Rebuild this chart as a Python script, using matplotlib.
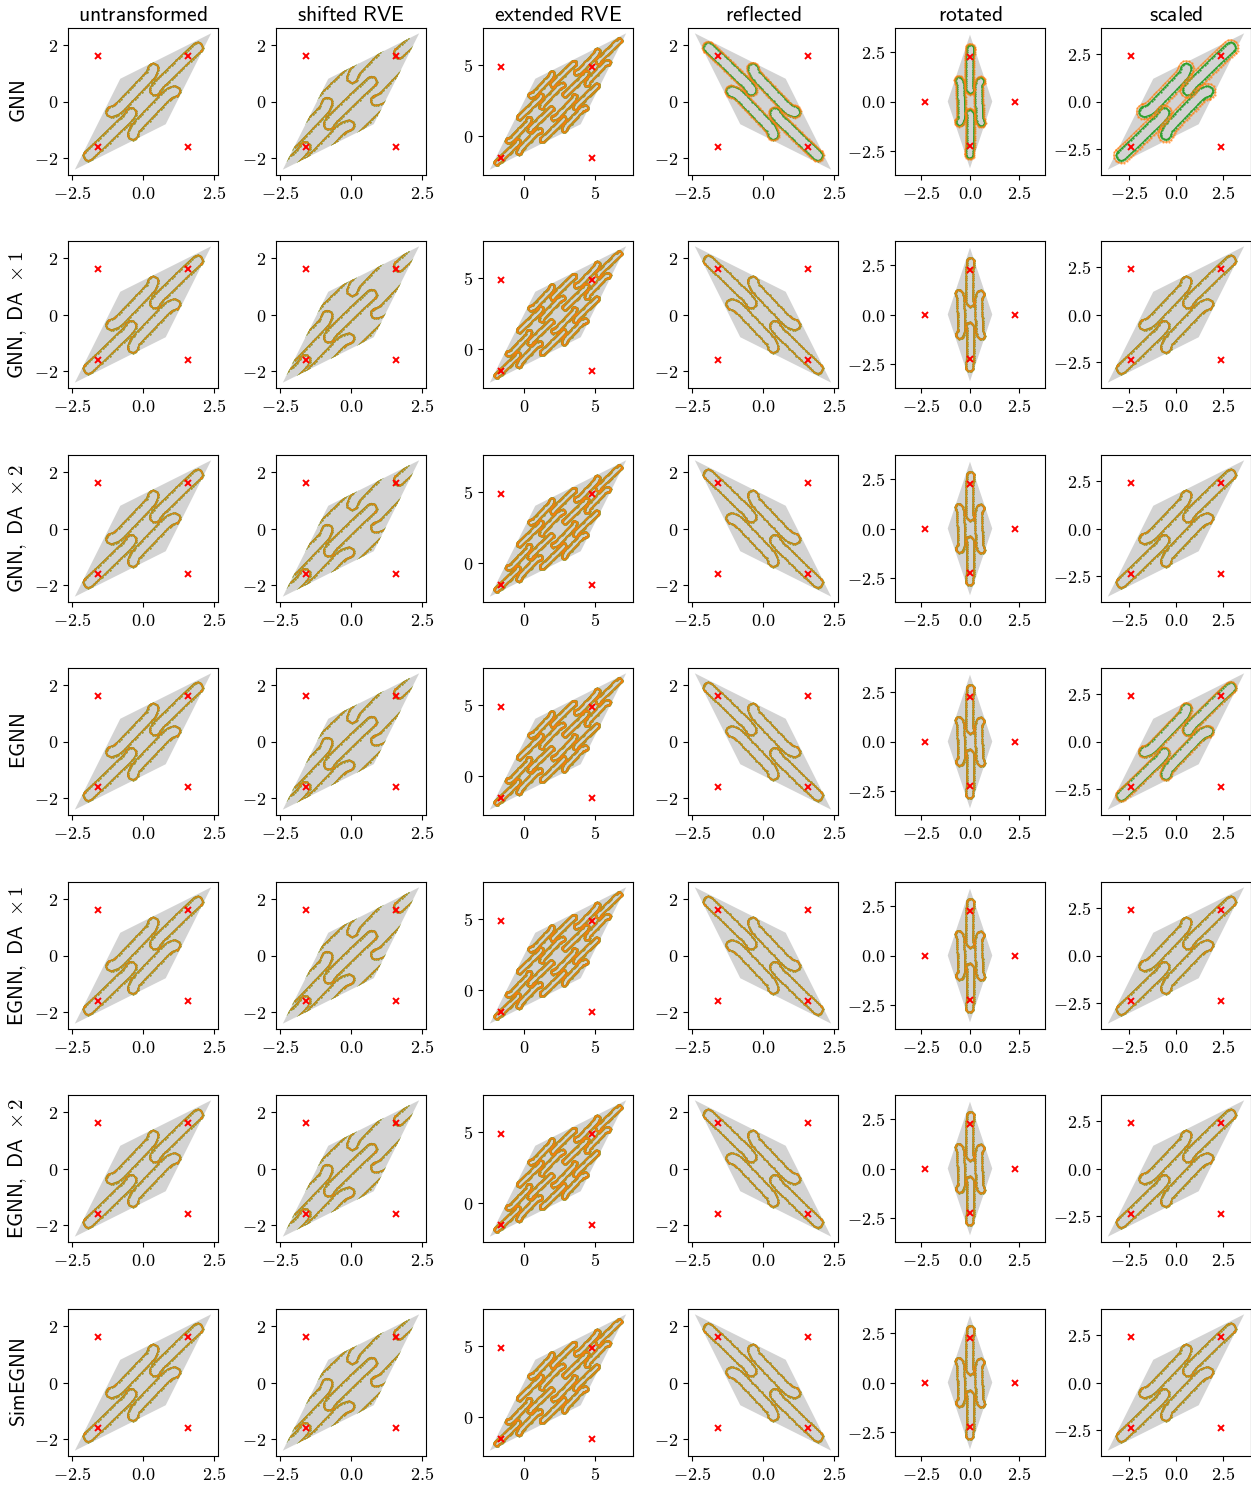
import numpy as np
import matplotlib
matplotlib.use("Agg")
import matplotlib.pyplot as plt
from matplotlib.patches import Polygon

plt.rcParams["mathtext.fontset"] = "cm"

# ---------------- data ----------------
col_titles = ["untransformed", "shifted RVE", "extended RVE", "reflected", "rotated", "scaled"]
row_models = ["GNN", "GNN, DA", "GNN, DA", "EGNN", "EGNN, DA", "EGNN, DA", "SimEGNN"]
row_da_factor = [None, 1, 2, None, 1, 2, None]

# undeformed RVE (square) and the applied macroscopic deformation gradient
rve_half_size = 1.6
deformation_gradient = [[1.0, 0.5], [0.5, 1.0]]

# centre lines of the holes in the deformed RVE; the remaining two holes
# are the point-symmetric images of these
hole_half_width = 0.18
main_hole_x = [-1.92, -1.55, -0.80, -0.58, -0.46, -0.42]
main_hole_y = [-1.90, -1.56, -0.83, -0.62, -0.48, -0.40]
side_hole_x = [-1.12, -0.95, -0.82, 0.14, 0.28, 0.36]
side_hole_y = [-0.36, -0.30, -0.20, 0.80, 0.96, 1.16]

# test transformations
shift_vector = [-1.2, -1.2]
rotation_deg = 45.0
scale_factor = 1.5

# deviation of the predicted hole boundary from the ground truth (rows x columns)
pred_width_error = [
    [0.00, 0.00, 0.00, 0.03, 0.05, 0.09],
    [0.00, 0.00, 0.00, 0.00, 0.00, 0.00],
    [0.00, 0.00, 0.00, 0.00, 0.00, 0.00],
    [0.00, 0.00, 0.00, 0.00, 0.00, 0.02],
    [0.00, 0.00, 0.00, 0.00, 0.00, 0.00],
    [0.00, 0.00, 0.00, 0.00, 0.00, 0.00],
    [0.00, 0.00, 0.00, 0.00, 0.00, 0.00],
]

x_ticks = [[-2.5, 0, 2.5], [-2.5, 0, 2.5], [0, 5], [-2.5, 0, 2.5], [-2.5, 0, 2.5], [-2.5, 0, 2.5]]
x_tick_labels = [["-2.5", "0.0", "2.5"], ["-2.5", "0.0", "2.5"], ["0", "5"],
                 ["-2.5", "0.0", "2.5"], ["-2.5", "0.0", "2.5"], ["-2.5", "0.0", "2.5"]]
y_ticks = [[-2, 0, 2], [-2, 0, 2], [0, 5], [-2, 0, 2], [-2.5, 0, 2.5], [-2.5, 0, 2.5]]
y_tick_labels = [["-2", "0", "2"], ["-2", "0", "2"], ["0", "5"], ["-2", "0", "2"],
                 ["-2.5", "0.0", "2.5"], ["-2.5", "0.0", "2.5"]]

# ---------------- layout ----------------
FIG_W, FIG_H = 1251, 1487
col_left_px = [68, 276, 483, 688, 895, 1101]
row_top_px = [28, 241, 455, 668, 882, 1095, 1309]
AX_W, AX_H = 150, 147

TRUE_COLOR = "#2ca02c"
PRED_COLOR = "#ff7f0e"
RVE_COLOR = "#d3d3d3"


def hole_outline(cx, cy, w, node_spacing=0.12):
    """Closed boundary of a rounded slit around a centre line, sampled at mesh nodes."""
    c = np.column_stack([cx, cy]).astype(float)
    seg = np.diff(c, axis=0)
    seg /= np.linalg.norm(seg, axis=1)[:, None]
    tang = np.vstack([seg[0], seg[:-1] + seg[1:], seg[-1]])
    tang /= np.linalg.norm(tang, axis=1)[:, None]
    nrm = np.column_stack([-tang[:, 1], tang[:, 0]])
    seg_n = np.column_stack([-seg[:, 1], seg[:, 0]])
    miter = np.ones(len(c))
    miter[1:-1] = 1.0 / np.einsum("ij,ij->i", nrm[1:-1], seg_n[:-1])
    left = c + w * miter[:, None] * nrm
    right = c - w * miter[:, None] * nrm

    def cap(p, t):
        a = np.arctan2(t[1], t[0])
        ang = a + np.linspace(np.pi / 2, -np.pi / 2, 9)[1:-1]
        return p + w * np.column_stack([np.cos(ang), np.sin(ang)])

    ring = np.vstack([left, cap(c[-1], tang[-1]), right[::-1], cap(c[0], -tang[0])])
    ring = np.vstack([ring, ring[:1]])
    nodes = [ring[0]]
    for p, q in zip(ring[:-1], ring[1:]):
        k = max(1, int(np.ceil(np.linalg.norm(q - p) / node_spacing)))
        for j in range(1, k + 1):
            nodes.append(p + (q - p) * j / k)
    return np.array(nodes)


def rve_holes(w):
    main = hole_outline(main_hole_x, main_hole_y, w)
    side = hole_outline(side_hole_x, side_hole_y, w)
    return [main, -main, side, -side]


F = np.array(deformation_gradient)
lattice = [F @ np.array([2 * rve_half_size, 0.0]), F @ np.array([0.0, 2 * rve_half_size])]


def square(lo, hi):
    return np.array([[lo, lo], [hi, lo], [hi, hi], [lo, hi]])


def column_transform(c):
    if c == 3:
        return np.array([[-1.0, 0.0], [0.0, 1.0]])
    if c == 4:
        t = np.deg2rad(rotation_deg)
        return np.array([[np.cos(t), -np.sin(t)], [np.sin(t), np.cos(t)]])
    if c == 5:
        return scale_factor * np.eye(2)
    return np.eye(2)


def draw_panel(ax, r, c):
    M = column_transform(c)
    if c == 2:
        corners = square(-rve_half_size, 3 * rve_half_size)
        offsets = [i * lattice[0] + j * lattice[1] for i in (0, 1) for j in (0, 1)]
    elif c == 1:
        corners = square(-rve_half_size, rve_half_size)
        offsets = [np.array(shift_vector) + i * lattice[0] + j * lattice[1]
                   for i in (-1, 0, 1) for j in (-1, 0, 1)]
    else:
        corners = square(-rve_half_size, rve_half_size)
        offsets = [np.zeros(2)]

    rve = (M @ (F @ corners.T)).T
    patch = Polygon(rve, closed=True, facecolor=RVE_COLOR, edgecolor="none", zorder=1)
    ax.add_patch(patch)

    err = pred_width_error[r][c]
    for w, color, alpha, z in [(hole_half_width, TRUE_COLOR, 1.0, 2),
                               (hole_half_width + err, PRED_COLOR, 0.6, 3)]:
        for hole in rve_holes(w):
            for off in offsets:
                pts = (M @ (hole + off).T).T
                line, = ax.plot(pts[:, 0], pts[:, 1], "-", color=color, alpha=alpha, lw=0.9,
                                marker=".", ms=1.3, zorder=z)
                if c == 1:
                    line.set_clip_path(patch)

    mk = (M @ corners.T).T
    ax.plot(mk[:, 0], mk[:, 1], "x", color="red", ms=4, mew=1.4, ls="none", zorder=5)

    # axis limits follow the RVE outline and its corner markers only
    ax.ignore_existing_data_limits = True
    ax.update_datalim(np.vstack([rve, mk]))
    ax.set_aspect("equal", adjustable="datalim")
    ax.autoscale_view()
    ax.set_xticks(x_ticks[c])
    ax.set_xticklabels([f"${s}$" for s in x_tick_labels[c]])
    ax.set_yticks(y_ticks[c])
    ax.set_yticklabels([f"${s}$" for s in y_tick_labels[c]])
    ax.tick_params(labelsize=13, length=3.5, width=0.8)


fig = plt.figure(figsize=(FIG_W / 100, FIG_H / 100), dpi=100)
for r in range(len(row_models)):
    for c in range(len(col_titles)):
        ax = fig.add_axes([col_left_px[c] / FIG_W, 1 - (row_top_px[r] + AX_H) / FIG_H,
                           AX_W / FIG_W, AX_H / FIG_H])
        draw_panel(ax, r, c)
        if r == 0:
            ax.set_title(r"$\mathsf{" + col_titles[c].replace(" ", r"\ ") + "}$", fontsize=15.5, pad=5)
        if c == 0:
            label = r"$\mathsf{" + row_models[r].replace(" ", r"\ ") + "}$"
            if row_da_factor[r] is not None:
                label += r"$\ \times " + str(row_da_factor[r]) + "$"
            ax.set_ylabel(label, fontsize=15)

fig.savefig("out.png", dpi=100)
